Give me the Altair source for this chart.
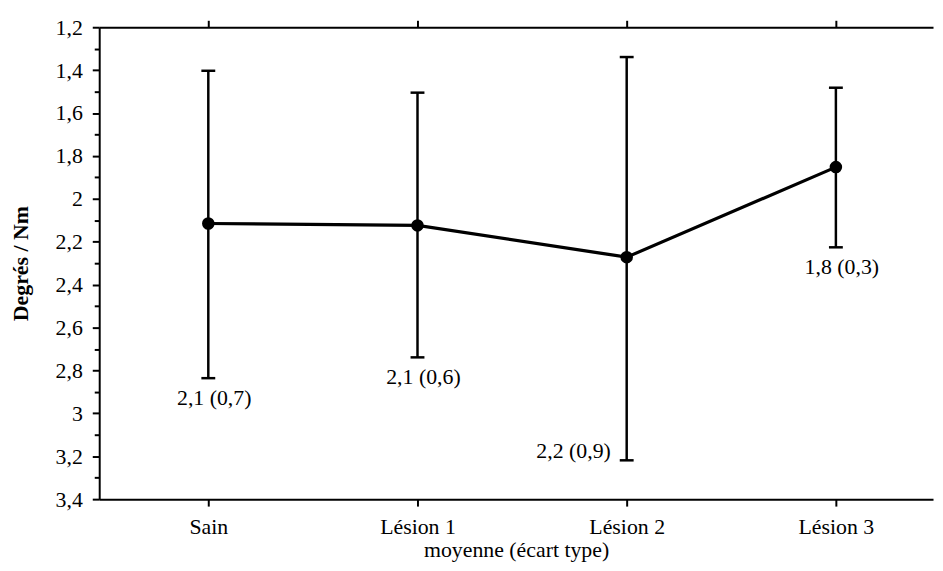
import altair as alt
import pandas as pd

# ---- data ----
categories = ["Sain", "Lésion 1", "Lésion 2", "Lésion 3"]
means = [2.115, 2.124, 2.272, 1.852]
bar_top = [1.403, 1.505, 1.339, 1.482]      # upper whisker ends (axis is reversed)
bar_bottom = [2.836, 2.739, 3.219, 2.226]   # lower whisker ends
labels = ["2,1 (0,7)", "2,1 (0,6)", "2,2 (0,9)", "1,8 (0,3)"]
y_ticks = [1.2, 1.3, 1.4, 1.5, 1.6, 1.7, 1.8, 1.9, 2.0, 2.1, 2.2, 2.3,
           2.4, 2.5, 2.6, 2.7, 2.8, 2.9, 3.0, 3.1, 3.2, 3.3, 3.4]
y_domain = [1.2, 3.4]

df = pd.DataFrame({"cat": categories, "mean": means, "lo": bar_top,
                   "hi": bar_bottom, "label": labels})

FONT = "Liberation Serif"
W, H = 841, 476

xscale = alt.Scale(type="point", domain=categories, padding=0.4929, align=0.529)
yscale = alt.Scale(domain=y_domain, reverse=True, nice=False, zero=False)

yaxis = alt.Axis(
    values=y_ticks,
    title="Degrés / Nm",
    labelExpr="round(datum.value*10) % 2 == 0 ? replace(format(datum.value, '.2~f'), '.', ',') : ''",
    tickSize={"condition": {"test": "round(datum.value*10) % 2 == 0", "value": 7}, "value": 5},
    labelPadding=10,
    labelOverlap=False,
    labelFlush=False,
    labelBound=False,
    titleFontWeight="bold",
    titleX=-79,
    titleY=H / 2,
    titleBaseline="middle",
)

xaxis_bottom = alt.Axis(
    orient="bottom",
    title="moyenne (écart type)",
    labelAngle=0,
    tickSize=7,
    labelPadding=11,
    titleY=58,
    titleBaseline="alphabetic",
    titleFontWeight="normal",
)

xaxis_top = alt.Axis(orient="top", labels=False, title="", tickSize=7)

base = alt.Chart(df)

line = base.mark_line(color="black", strokeWidth=3.2).encode(
    x=alt.X("cat:N", scale=xscale, axis=xaxis_bottom, sort=categories),
    y=alt.Y("mean:Q", scale=yscale, axis=yaxis),
)

points = base.mark_circle(color="black", size=160, opacity=1).encode(
    x=alt.X("cat:N", scale=xscale, axis=xaxis_top, sort=categories),
    y=alt.Y("mean:Q", scale=yscale, axis=yaxis),
)

bars = base.mark_rule(color="black", strokeWidth=2.5).encode(
    x=alt.X("cat:N", scale=xscale, axis=None, sort=categories),
    y=alt.Y("lo:Q", scale=yscale, axis=yaxis),
    y2="hi:Q",
)

cap_top = base.mark_tick(color="black", size=14, thickness=2.5, opacity=1).encode(
    x=alt.X("cat:N", scale=xscale, axis=None, sort=categories),
    y=alt.Y("lo:Q", scale=yscale, axis=yaxis),
)

cap_bottom = base.mark_tick(color="black", size=14, thickness=2.5, opacity=1).encode(
    x=alt.X("cat:N", scale=xscale, axis=None, sort=categories),
    y=alt.Y("hi:Q", scale=yscale, axis=yaxis),
)

text_below = base.transform_filter(alt.datum.cat != "Lésion 2").mark_text(
    font=FONT, fontSize=22, color="black", align="center", baseline="middle", dx=6, dy=20
).encode(
    x=alt.X("cat:N", scale=xscale, axis=None, sort=categories),
    y=alt.Y("hi:Q", scale=yscale, axis=yaxis),
    text="label:N",
)

text_left = base.transform_filter(alt.datum.cat == "Lésion 2").mark_text(
    font=FONT, fontSize=22, color="black", align="right", baseline="middle", dx=-16, dy=-9
).encode(
    x=alt.X("cat:N", scale=xscale, axis=None, sort=categories),
    y=alt.Y("hi:Q", scale=yscale, axis=yaxis),
    text="label:N",
)

chart = alt.layer(bars, cap_top, cap_bottom, line, points, text_below, text_left).resolve_axis(
    x="independent"
).properties(
    width=W,
    height=H,
    autosize=alt.AutoSizeParams(type="none"),
    padding={"left": 92, "top": 17, "right": 2, "bottom": 62},
).configure_view(stroke=None).configure_axis(
    grid=False,
    domainColor="black",
    domainWidth=2,
    tickColor="black",
    tickWidth=2,
    labelColor="black",
    titleColor="black",
    labelFont=FONT,
    titleFont=FONT,
    labelFontSize=22,
    titleFontSize=22,
)

chart.save("out.html", embed_options={"renderer": "svg", "actions": False})
